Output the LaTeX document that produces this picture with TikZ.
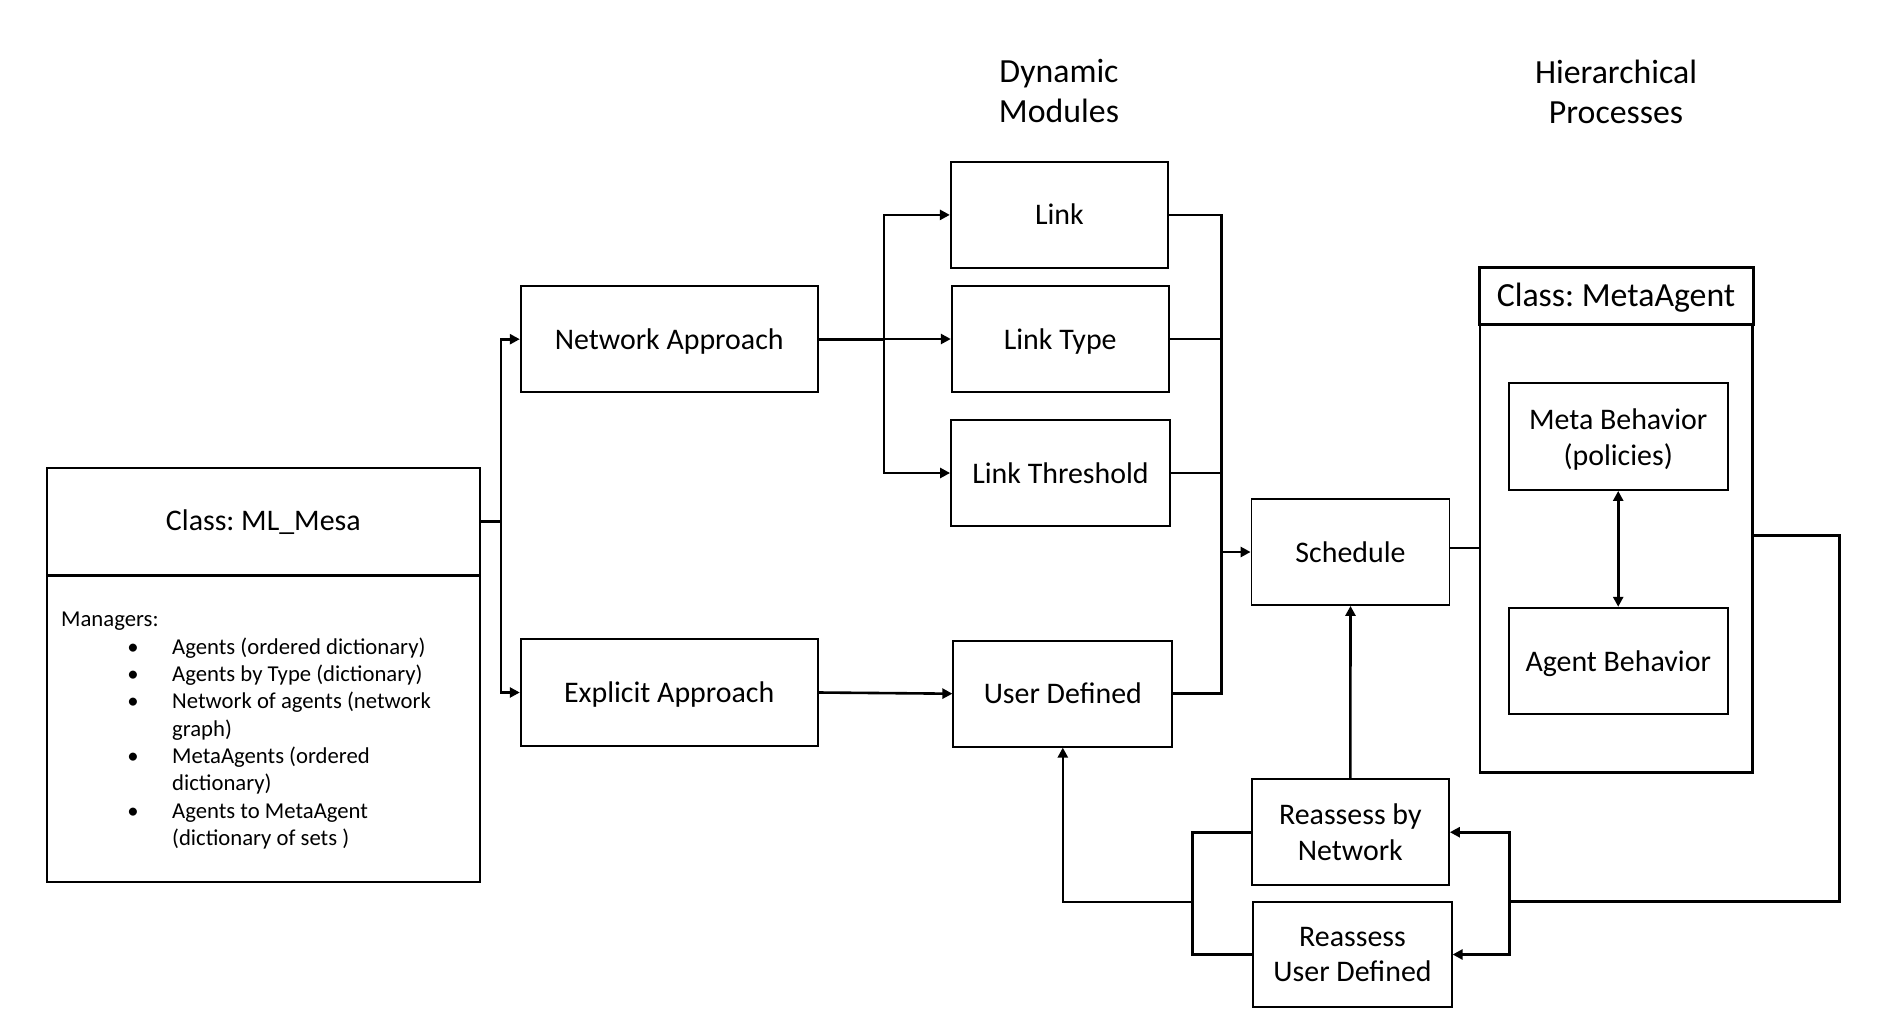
\documentclass[tikz,border=0pt]{standalone}
\usepackage{fontspec}
\setmainfont{Carlito}
\usetikzlibrary{arrows.meta}
\frenchspacing
\newcommand\bxfont{\fontsize{29.9}{35.9}\selectfont}
\newcommand\hdfont{\fontsize{33.8}{40.6}\selectfont}
\newcommand\lsfont{\fontsize{22.7}{27.3}\selectfont}
\begin{document}
\begin{tikzpicture}[x=1pt,y=-1pt,
  box/.style={draw, line width=1.8pt, inner sep=0pt, font=\bxfont, align=center, fill=white},
  one/.style={text height=22pt, text depth=2pt},
  hd/.style={inner sep=0pt, font=\hdfont, align=center},
  lst/.style={inner sep=0pt, font=\lsfont, anchor=base west},
  bul/.style={inner sep=0pt, font=\lsfont, anchor=base},
  conn/.style={line width=2.6pt},
  arr/.style={conn, -{Triangle[length=10pt,width=10pt]}},
  darr/.style={conn, {Triangle[length=10pt,width=10pt]}-{Triangle[length=10pt,width=10pt]}}]
\useasboundingbox (0,0) rectangle (1894,1030);
\fill[white] (0,0) rectangle (1894,1030);

% headers
\node[hd] (dyn) at (1059,91) {Dynamic\\Modules};
\node[hd] (hier) at (1616,92) {Hierarchical\\Processes};

% ML_Mesa class box
\node[draw, line width=2pt, minimum width=433.3pt, minimum height=414pt, inner sep=0pt] (mesa) at (263.35,675) {};
\node[minimum width=433.3pt, minimum height=107pt, inner sep=0pt, font=\bxfont, text height=22pt, text depth=4pt] (mesatitle) at (263.35,521.5) {Class: ML\_Mesa};
\draw[line width=3pt] (mesatitle.south west) -- (mesatitle.south east);
\node[lst] (mgr) at (61,626.7) {Managers:};
\node[bul] (b1) at (133,654) {\textbullet};
\node[lst] (t1) at (172,654) {Agents (ordered dictionary)};
\node[bul] (b2) at (133,681.3) {\textbullet};
\node[lst] (t2) at (172,681.3) {Agents by Type (dictionary)};
\node[bul] (b3) at (133,708.6) {\textbullet};
\node[lst] (t3) at (172,708.6) {Network of agents (network};
\node[lst] (t3b) at (172,736) {graph)};
\node[bul] (b4) at (133,763.3) {\textbullet};
\node[lst] (t4) at (172,763.3) {MetaAgents (ordered};
\node[lst] (t4b) at (172,790.6) {dictionary)};
\node[bul] (b5) at (133,818) {\textbullet};
\node[lst] (t5) at (172,818) {Agents to MetaAgent};
\node[lst] (t5b) at (172,845.3) {(dictionary of sets )};

% approach boxes
\node[box, one, minimum width=297pt, minimum height=106.3pt] (net) at (669.2,339.2) {Network Approach};
\node[box, one, minimum width=297pt, minimum height=107pt] (exp) at (669.2,692.5) {Explicit Approach};

% dynamic modules
\node[box, one, minimum width=217.3pt, minimum height=106.3pt] (link) at (1059.4,214.9) {Link};
\node[box, one, minimum width=217pt, minimum height=106.6pt] (ltype) at (1060.2,339) {Link Type};
\node[box, one, minimum width=219pt, minimum height=106.6pt] (lthr) at (1060.5,473) {Link Threshold};
\node[box, one, minimum width=219pt, minimum height=106pt] (ud) at (1062.8,693.7) {User Defined};

% schedule and reassess
\node[box, one, minimum width=198pt, minimum height=106pt] (sched) at (1350.5,552) {Schedule};
\node[box, minimum width=197.3pt, minimum height=106.3pt] (rbn) at (1350.3,832.2) {Reassess by\\Network};
\node[box, minimum width=198.4pt, minimum height=105.6pt] (rud) at (1352.5,954.5) {Reassess\\User Defined};

% MetaAgent class
\node[draw, line width=2.6pt, minimum width=272.5pt, minimum height=447.7pt, inner sep=0pt] (mabody) at (1616.25,548.85) {};
\node[draw, line width=3pt, fill=white, minimum width=274pt, minimum height=57.3pt, inner sep=0pt, font=\hdfont, text height=24pt, text depth=3pt] (mahead) at (1616,296.3) {Class: MetaAgent};
\node[box, minimum width=219pt, minimum height=106.7pt] (mb) at (1618.2,436.7) {\rule{0pt}{26pt}Meta Behavior\\(policies)};
\node[box, one, minimum width=219pt, minimum height=106.6pt] (ab) at (1618.2,661) {Agent Behavior};

% connectors
\coordinate (j1) at (501,521.5);
\draw[conn] (mesatitle.east) -- (j1);
\draw[arr] (j1) |- (net.west);
\draw[arr] (j1) |- (exp.west);

\coordinate (j2) at (884,339.2);
\draw[conn] (net.east) -- (j2);
\draw[arr] (j2) |- (link.west);
\draw[arr] (j2) |- (ltype.west);
\draw[arr] (j2) |- (lthr.west);

\draw[arr] (exp.east) -- (ud.west);

\coordinate (j3) at (1221.3,552);
\draw[conn] (link.east) -| (j3);
\draw[conn] (ud.east) -| (j3);
\draw[conn] (ltype.east) -- (ltype.east -| j3);
\draw[conn] (lthr.east) -- (lthr.east -| j3);
\draw[arr] (j3) -- (sched.west);

\coordinate (so) at ([yshift=4pt]sched.east);
\draw[conn] (so) -- (so -| mabody.west);

\draw[darr] (mb.south) -- (ab.north);

\coordinate (mo) at ([yshift=13.15pt]mabody.east);
\coordinate (c5) at (1839.3,901.7);
\coordinate (j4) at (1509.3,901.7);
\draw[conn] (mo) -| (c5) -- (j4);
\draw[arr] (j4) |- (rbn.east);
\draw[arr] (j4) |- (rud.east);

\draw[arr] (rbn.north) -- (sched.south);

\coordinate (j5) at (1192.7,902);
\draw[conn] (rbn.west) -| (j5);
\draw[conn] (rud.west) -| (j5);
\draw[arr] (j5) -| (ud.south);
\end{tikzpicture}
\end{document}
